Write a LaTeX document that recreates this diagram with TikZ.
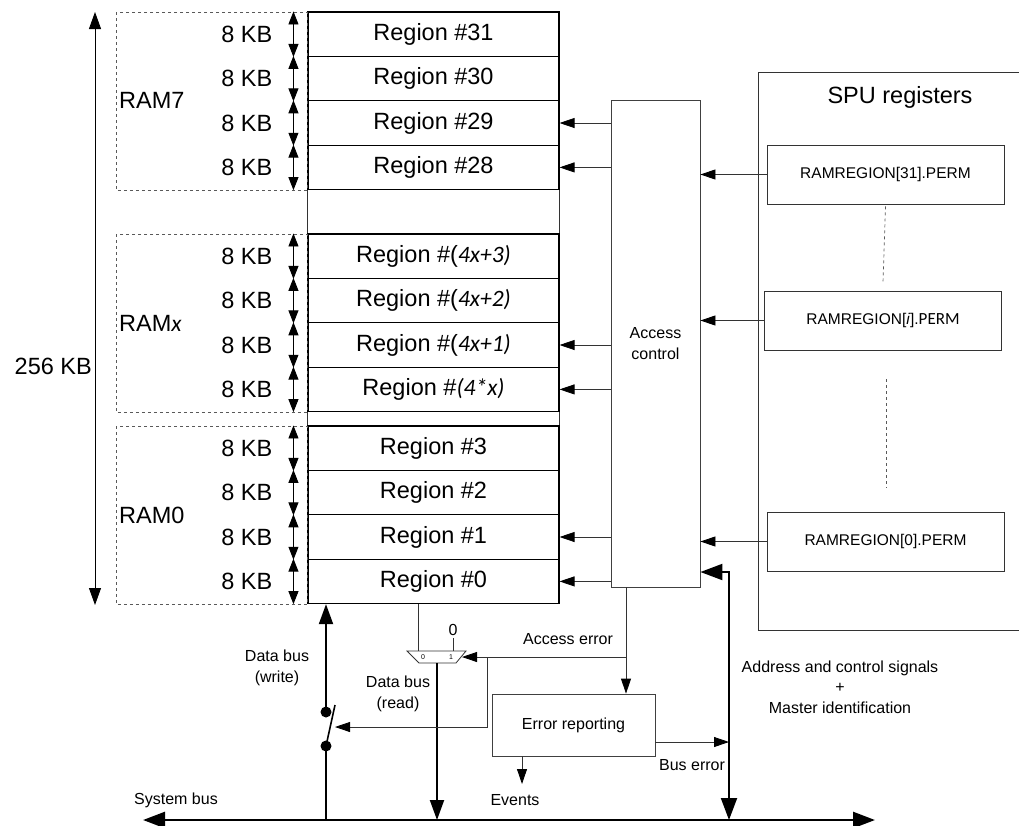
\documentclass[tikz,border=0pt]{standalone}
\usepackage{fontspec}
\setmainfont{Liberation Sans}
\newfontfamily\calfont{Carlito}
\usetikzlibrary{arrows.meta,positioning,calc}
\newcommand\regfont{\fontsize{23.5}{28}\selectfont}
\newcommand\smallfont{\fontsize{16}{20.5}\selectfont}
\newcommand\permfont{\fontsize{15.5}{19}\selectfont}
\newcommand\ix[1]{{\calfont\itshape #1}}

\begin{document}
\begin{tikzpicture}[x=1pt,y=-1pt,
  region/.style={draw,line width=1.1pt,minimum width=251pt,minimum height=44.4pt,inner sep=0pt,font=\regfont},
  lbl/.style={inner sep=0pt,font=\regfont},
  txt/.style={inner sep=0pt,align=center,font=\smallfont},
  blk/.style={draw=black!75,line width=0.8pt,inner sep=0pt,align=center,font=\smallfont},
  perm/.style={draw=black!80,line width=0.8pt,minimum width=237pt,minimum height=59pt,inner sep=0pt,font=\permfont},
  wire/.style={draw=black!80,line width=0.8pt},
  arr/.style={wire,-{Triangle[length=15pt,width=10pt,black]}},
  dbl/.style={line width=0.9pt,{Triangle[length=13pt,width=10pt]}-{Triangle[length=13pt,width=10pt]}},
  ramdash/.style={draw=black!65,dashed,line width=0.7pt},
  bus/.style={line width=2.6pt},
  wbus/.style={line width=2pt},
  tip/.style={-{Triangle[length=20pt,width=14pt]}},
  bigtips/.style={{Triangle[length=22pt,width=16pt]}-{Triangle[length=22pt,width=16pt]}}]
\useasboundingbox (0,0) rectangle (1019,825);

% memory column
\foreach \nm/\cy/\lab in {r31/34.2/{Region \#31},r30/78.6/{Region \#30},
    r29/123/{Region \#29},r28/167.4/{Region \#28},
    rx3/256.2/{Region \#(\ix{4x+3)}},rx2/300.6/{Region \#(\ix{4x+2)}},
    rx1/345/{Region \#(\ix{4x+1)}},rx0/389.4/{Region \#\ix{(4*x)}},
    r3/448.2/{Region \#3},r2/492.6/{Region \#2},r1/537/{Region \#1},r0/581.4/{Region \#0}}{
  \node[region] (\nm) at (433.5,\cy) {\lab};
  \draw[dbl] ([xshift=-14pt]\nm.north west) -- ([xshift=-14pt]\nm.south west);
  \node[lbl,anchor=east] (k\nm) at ([xshift=-35pt]\nm.west) {8 KB};
}
\draw[wire] (r28.south west) -- (rx3.north west) (r28.south east) -- (rx3.north east);
\draw[wire] (rx0.south west) -- (r3.north west) (rx0.south east) -- (r3.north east);

% RAM blocks
\draw[ramdash] (116,12) rectangle (r28.south west);
\draw[ramdash] (116,234) rectangle (rx0.south west);
\draw[ramdash] (116,426) rectangle (r0.south west);
\node[lbl,anchor=west] (ram7) at (119,100.6) {RAM7};
\node[lbl,anchor=west] (ramx) at (119,323) {RAM\ix{x}};
\node[lbl,anchor=west] (ram0) at (119,515) {RAM0};

\coordinate (memtop) at (95,12);
\coordinate (membot) at (95,605);
\draw[line width=0.9pt,{Triangle[length=17pt,width=12pt]}-{Triangle[length=17pt,width=12pt]}] (memtop) -- (membot);
\node[lbl,anchor=east] (size) at (92,366) {256 KB};

% access control
\node[blk,minimum width=89pt,minimum height=487pt] (ac) at (655.5,343.5) {Access\\control};
\foreach \nm in {r29,r28,rx1,rx0,r1,r0}
  \draw[arr] (ac.west |- \nm.east) -- (\nm.east);

% SPU registers
\draw[wire] (1019,72) -- (758,72) -- (758,630) -- (1019,630);
\node[lbl] (spu) at (900,97) {SPU registers};
\node[perm] (p31) at (885.5,174.5) {RAMREGION[31].PERM};
\node[perm] (pi) at (883,320.5) {RAMREGION[\textit{i}].{\calfont\fontsize{17}{19}\selectfont PERM}};
\node[perm] (p0) at (885.5,541.5) {RAMREGION[0].PERM};
\draw[ramdash] ([yshift=-2pt]p31.south) -- ([yshift=8pt]pi.north);
\draw[ramdash] (886,379) -- (886,488);
\foreach \nm in {p31,pi,p0}
  \draw[arr] (\nm.west) -- (ac.east |- \nm.west);

% buses
\coordinate (sbl) at (143,820);
\coordinate (sbr) at (875,820);
\draw[bus,bigtips] (sbl) -- (sbr);
\node[txt] (sysbus) at (176,800) {System bus};

\coordinate (adbus) at (729,820);
\draw[wbus,bigtips] (ac.east |- 0,572) -- (729,572) -- (adbus);
\node[txt] (adr) at (840,687) {Address and control signals\\+\\Master identification};

% write path with switch
\coordinate (swlo) at (326,746);
\coordinate (swhi) at (326,712);
\coordinate (swarm) at (335,705);
\draw[wbus] (sbl -| swlo) -- (swlo);
\draw[wbus,tip] (swhi) -- (swhi |- r0.south);
\draw[line width=1.6pt] (swlo) -- (swarm);
\fill (swlo) circle (5.5) (swhi) circle (5.5);
\node[txt] (wlbl) at (277,668) {Data bus\\(write)};

% read path with mux
\draw[wire] (407,651) -- (466,651) -- (456,663) -- (419,663) -- cycle;
\node[inner sep=0pt,font=\fontsize{7}{8}\selectfont] (m0) at (423,657.5) {0};
\node[inner sep=0pt,font=\fontsize{7}{8}\selectfont] (m1) at (451,657.5) {1};
\draw[wire] (r0.south -| 418,0) -- (418,651);
\node[txt] (zero) at (453,630) {0};
\draw[wire] (zero.south) ++(0,2) -- (453,651);
\coordinate (mout) at (437,663);
\draw[wbus,tip] (mout) -- (sbl -| mout);
\node[txt] (rlbl) at (398,694) {Data bus\\(read)};

% error handling
\node[blk,minimum width=163pt,minimum height=62pt] (er) at (573.5,725) {Error reporting};
\draw[arr] (ac.south -| 626,0) -- (er.north -| 626,0);
\draw[arr] (626,657) -- (462,657);
\draw[arr] (487,657) -- (487,727) -- (swarm |- 0,727);
\node[txt] (acerr) at (568,639) {Access error};
\draw[arr] (er.east |- 0,742) -- (adbus |- 0,742);
\node[txt] (buserr) at (692,765) {Bus error};
\draw[arr] (er.south -| 522,0) -- (522,784);
\node[txt] (ev) at (515,800) {Events};
\end{tikzpicture}
\end{document}
